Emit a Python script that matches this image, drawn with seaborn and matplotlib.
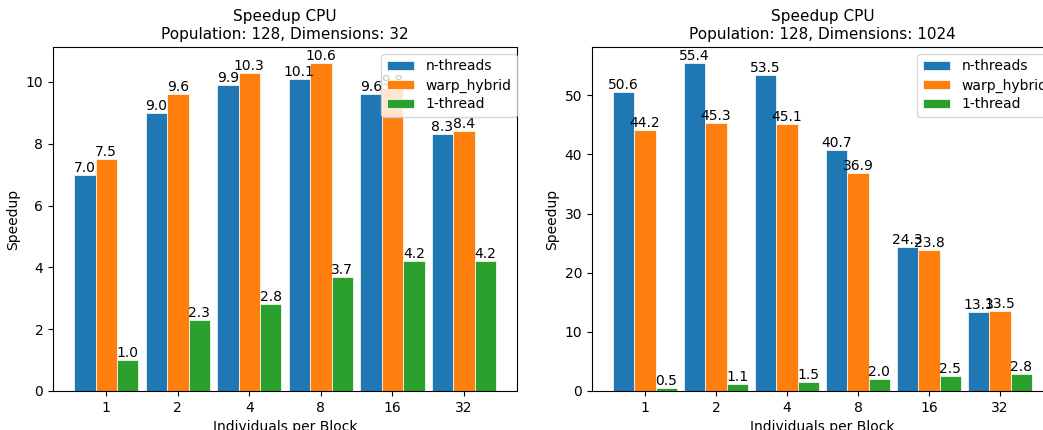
import pandas as pd
import matplotlib
matplotlib.use("Agg")
import matplotlib.pyplot as plt
import seaborn as sns

# block sizes on the x axis
blocks = ["1", "2", "4", "8", "16", "32"]
methods = ["n-threads", "warp_hybrid", "1-thread"]

# dims = 32
d32_nthreads = [7.0, 9.0, 9.9, 10.1, 9.6, 8.3]
d32_warp = [7.5, 9.6, 10.3, 10.6, 9.8, 8.4]
d32_single = [1.0, 2.3, 2.8, 3.7, 4.2, 4.2]

# dims = 1024
d1024_nthreads = [50.6, 55.4, 53.5, 40.7, 24.3, 13.3]
d1024_warp = [44.2, 45.3, 45.1, 36.9, 23.8, 13.5]
d1024_single = [0.5, 1.1, 1.5, 2.0, 2.5, 2.8]


def to_long(series):
    rows = []
    for name, vals in zip(methods, series):
        for b, v in zip(blocks, vals):
            rows.append([b, name, v])
    return pd.DataFrame(rows, columns=["block", "method", "speedup"])


df32 = to_long([d32_nthreads, d32_warp, d32_single])
df1024 = to_long([d1024_nthreads, d1024_warp, d1024_single])

colors = ["#1f77b4", "#ff7f0e", "#2ca02c"]

fig = plt.figure(figsize=(10.43, 4.3), dpi=100)
ax1 = fig.add_axes([0.0508, 0.0907, 0.445, 0.80])
ax2 = fig.add_axes([0.5676, 0.0907, 0.442, 0.80])


def draw(ax, df, dims):
    sns.barplot(data=df, x="block", y="speedup", hue="method", order=blocks,
                hue_order=methods, palette=colors, width=0.9, gap=0,
                edgecolor="white", linewidth=0.5, saturation=1, ax=ax)
    for c in ax.containers:
        ax.bar_label(c, fmt="%.1f", fontsize=10)
    ax.set_xlim(-0.745, 5.745)
    ax.set_xlabel("Individuals per Block")
    ax.set_ylabel("Speedup")
    ax.set_title(f"Speedup CPU\nPopulation: 128, Dimensions: {dims}", fontsize=11)
    leg = ax.legend(loc="upper right", bbox_to_anchor=(1.015, 1), title=None,
                    labelspacing=0.35)
    leg.set_zorder(10)


draw(ax1, df32, 32)
draw(ax2, df1024, 1024)

fig.savefig("out.png", dpi=100)
